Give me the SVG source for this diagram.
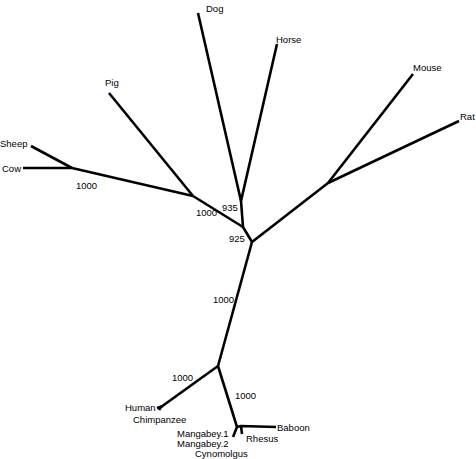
<svg xmlns="http://www.w3.org/2000/svg" width="476" height="459" viewBox="0 0 476 459">
<style>
.e{stroke:#000;stroke-width:2.6;fill:none;stroke-linecap:butt;stroke-linejoin:round}
text{font-family:"Liberation Sans",Arial,sans-serif;font-size:9.5px;fill:#000}
</style>
<rect width="476" height="459" fill="#fff"/>
<g id="connectors">
<path class="e" d="M23,168 L72,168"/>
<path class="e" d="M31,146 L72,168"/>
<path class="e" d="M72,168 L193,196"/>
<path class="e" d="M109,93 L193,196"/>
<path class="e" d="M193,196 L243,227"/>
<path class="e" d="M198,13 L241,201"/>
<path class="e" d="M277,44 L241,201"/>
<path class="e" d="M241,201 L243,227 L252,242"/>
<path class="e" d="M252,242 L328,183"/>
<path class="e" d="M328,183 L413,74"/>
<path class="e" d="M328,183 L459,121"/>
<path class="e" d="M252,242 L218,366"/>
<path class="e" d="M218,366 L161,407"/>
<path class="e" d="M163,406 L157,408 M161,407 L159,410"/>
<path class="e" d="M218,366 L237,427"/>
<path class="e" d="M237,427 L233,437"/>
<path class="e" d="M237,427 L241,426 L276,427"/>
<path class="e" d="M241,426 L242,434"/>
</g>
<g id="Sheep"><text x="0" y="147">Sheep</text></g>
<g id="Cow"><text x="2" y="172">Cow</text></g>
<g id="Pig"><text x="105" y="86">Pig</text></g>
<g id="Dog"><text x="206" y="12">Dog</text></g>
<g id="Horse"><text x="276" y="43">Horse</text></g>
<g id="Mouse"><text x="413" y="71">Mouse</text></g>
<g id="Rat"><text x="460" y="120">Rat</text></g>
<g id="Human"><text x="125" y="411">Human</text></g>
<g id="Chimpanzee"><text x="133" y="423">Chimpanzee</text></g>
<g id="Baboon"><text x="277" y="431">Baboon</text></g>
<g id="Rhesus"><text x="246" y="442">Rhesus</text></g>
<g id="Mangabey1"><text x="177" y="437">Mangabey.1</text></g>
<g id="Mangabey2"><text x="177" y="447">Mangabey.2</text></g>
<g id="Cynomolgus"><text x="195" y="457">Cynomolgus</text></g>
<g id="bootstrap">
<text x="76" y="189">1000</text>
<text x="196" y="216">1000</text>
<text x="222" y="211">935</text>
<text x="229" y="242">925</text>
<text x="213" y="303">1000</text>
<text x="172" y="381">1000</text>
<text x="235" y="399">1000</text>
</g>
</svg>
